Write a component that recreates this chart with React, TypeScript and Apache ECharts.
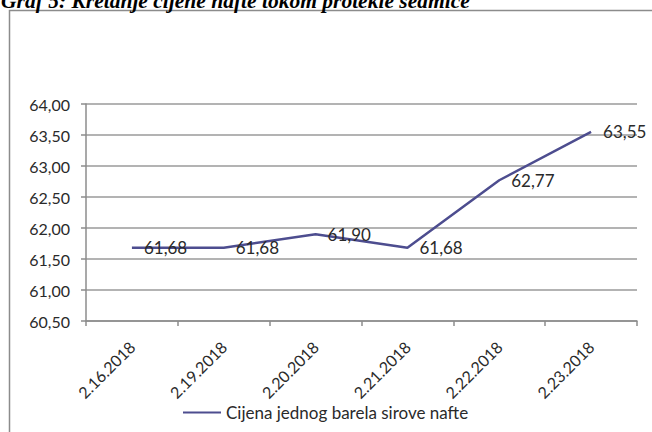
import React, { useEffect, useRef } from "react";
import * as echarts from "echarts";

const TITLE = "Graf 5: Kretanje cijene nafte tokom protekle sedmice";
const SERIES_NAME = "Cijena jednog barela sirove nafte";
const categories = ["2.16.2018", "2.19.2018", "2.20.2018", "2.21.2018", "2.22.2018", "2.23.2018"];
const prices = [61.68, 61.68, 61.9, 61.68, 62.77, 63.55];
const Y_MIN = 60.5;
const Y_MAX = 64;
const Y_STEP = 0.5;

const fmt = (v: number) => v.toFixed(2).replace(".", ",");
const FONT = "Lato";
const LINE_COLOR = "#4d4d8f";

export default function App() {
  const ref = useRef<HTMLDivElement>(null);
  useEffect(() => {
    if (!ref.current) return;
    const chart = echarts.init(ref.current, null, { renderer: "svg" });
    chart.setOption({
      animation: false,
      backgroundColor: "#ffffff",
      graphic: [
        {
          type: "rect",
          shape: { x: 9.5, y: 10.5, width: 700, height: 500 },
          style: { fill: "none", stroke: "#8c8c8c", lineWidth: 1.5 },
          z: 0,
        },
        {
          type: "text",
          x: 1,
          y: 12,
          style: {
            text: TITLE,
            font: "italic bold 21.5px 'Liberation Serif', 'Times New Roman', serif",
            fill: "#000000",
            verticalAlign: "bottom",
            align: "left",
          },
        },
      ],
      legend: {
        bottom: 6,
        left: 178,
        itemWidth: 38,
        itemHeight: 10,
        itemGap: 3,
        icon: "path://M0,4 L38,4 L38,6 L0,6 Z",
        itemStyle: { color: LINE_COLOR, opacity: 1 },
        textStyle: { fontFamily: FONT, fontSize: 17, color: "#2a2a2a" },
        data: [SERIES_NAME],
      },
      grid: { left: 86, right: 15, top: 104, bottom: 111, containLabel: false },
      xAxis: {
        type: "category",
        data: categories,
        boundaryGap: true,
        axisLine: { show: true, lineStyle: { color: "#8c8c8c", width: 1.5 } },
        axisTick: { show: true, alignWithLabel: false, length: 5, lineStyle: { color: "#8c8c8c", width: 1.5 } },
        axisLabel: {
          rotate: 45,
          interval: 0,
          margin: 23,
          fontFamily: FONT,
          fontSize: 16,
          color: "#2a2a2a",
        },
      },
      yAxis: {
        type: "value",
        min: Y_MIN,
        max: Y_MAX,
        interval: Y_STEP,
        axisLine: { show: true, lineStyle: { color: "#8c8c8c", width: 1.5 } },
        axisTick: { show: true, length: 5, lineStyle: { color: "#8c8c8c", width: 1.5 } },
        splitLine: { show: true, lineStyle: { color: "#9a9a9a", width: 1.5 } },
        axisLabel: {
          formatter: (v: number) => fmt(v),
          margin: 16,
          fontFamily: FONT,
          fontSize: 16,
          color: "#2a2a2a",
        },
      },
      series: [
        {
          name: SERIES_NAME,
          type: "line",
          data: prices,
          symbol: "circle",
          symbolSize: 0.01,
          showSymbol: true,
          color: LINE_COLOR,
          itemStyle: { color: LINE_COLOR },
          lineStyle: { color: LINE_COLOR, width: 2.5 },
          label: {
            show: true,
            position: "right",
            distance: 12,
            formatter: (p: any) => fmt(p.value),
            fontFamily: FONT,
            fontSize: 17,
            color: "#2a2a2a",
          },
        },
      ],
    });
    return () => chart.dispose();
  }, []);
  return (
    <div
      ref={ref}
      style={{ position: "fixed", left: 0, top: 0, width: 652, height: 432 }}
    />
  );
}
